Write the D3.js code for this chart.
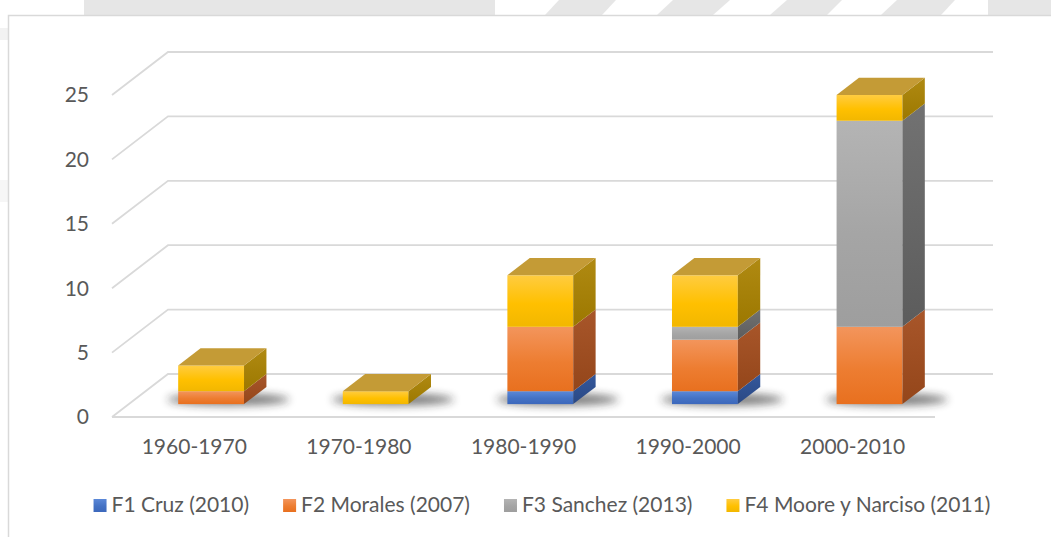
<!DOCTYPE html>
<html><head><meta charset="utf-8"/>
<title>Fuentes por década</title>
<script src="https://cdn.jsdelivr.net/npm/d3@7"></script>
<style>
  body { margin: 0; padding: 0; background: #fff; width: 1051px; height: 537px; overflow: hidden; }
  svg text { font-family: Lato, "Open Sans", sans-serif; fill: #595959; }
</style>
</head>
<body>
<div id="chart"></div>
<script>
// data
const categories = ["1960-1970", "1970-1980", "1980-1990", "1990-2000", "2000-2010"];
const seriesNames = ["F1 Cruz (2010)", "F2 Morales (2007)", "F3 Sanchez (2013)", "F4 Moore y Narciso (2011)"];
const f1Cruz = [0, 0, 1, 1, 0];
const f2Morales = [1, 0, 5, 4, 6];
const f3Sanchez = [0, 0, 0, 1, 16];
const f4Moore = [2, 1, 4, 4, 2];
const yTicks = [0, 5, 10, 15, 20, 25];

const W = 1051, H = 537;
const keys = ["f1", "f2", "f3", "f4"];
const rows = categories.map((c, i) => ({ cat: c, f1: f1Cruz[i], f2: f2Morales[i], f3: f3Sanchez[i], f4: f4Moore[i] }));

// colours: base, front gradient top/bottom, side top/bottom
const pal = {
  f1: { base: "#4472C4", ft: "#5B88D8", fb: "#3C68BC", st: "#34589C", sb: "#2A4884" },
  f2: { base: "#ED7D31", ft: "#F3955C", fb: "#E8701F", st: "#A8562A", sb: "#94461A" },
  f3: { base: "#A5A5A5", ft: "#B4B4B4", fb: "#9E9E9E", st: "#727272", sb: "#5C5C5C" },
  f4: { base: "#FFC000", ft: "#FFCC40", fb: "#F2B700", st: "#B08A12", sb: "#9C7800" }
};
const topColor = { f1: "#3A5FA0", f2: "#C0692C", f3: "#8A8A8A", f4: "#C49B36" };

const svg = d3.select("#chart").append("svg").attr("width", W).attr("height", H);
const defs = svg.append("defs");

keys.forEach(k => {
  const g1 = defs.append("linearGradient").attr("id", "front-" + k).attr("x1", 0).attr("y1", 0).attr("x2", 0).attr("y2", 1);
  g1.append("stop").attr("offset", "0%").attr("stop-color", pal[k].ft);
  g1.append("stop").attr("offset", "55%").attr("stop-color", pal[k].base);
  g1.append("stop").attr("offset", "100%").attr("stop-color", pal[k].fb);
  const g2 = defs.append("linearGradient").attr("id", "side-" + k).attr("x1", 0).attr("y1", 0).attr("x2", 0).attr("y2", 1);
  g2.append("stop").attr("offset", "0%").attr("stop-color", pal[k].st);
  g2.append("stop").attr("offset", "100%").attr("stop-color", pal[k].sb);
});
defs.append("filter").attr("id", "blur").attr("x", "-50%").attr("y", "-200%").attr("width", "200%").attr("height", "500%")
  .append("feGaussianBlur").attr("stdDeviation", 4);

// faint watermark behind the chart box
const wm = svg.append("g").attr("fill", "#e6e6e6");
wm.append("rect").attr("x", 84).attr("y", 0).attr("width", 411).attr("height", 15);
[[559, 616, 545, 602], [673, 730, 657, 713], [787, 842, 770, 827], [897, 955, 881, 941]].forEach(s => {
  wm.append("polygon").attr("points", `${s[0]},0 ${s[1]},0 ${s[3]},15 ${s[2]},15`);
});
wm.append("rect").attr("x", 988).attr("y", 0).attr("width", 63).attr("height", 15);
wm.append("rect").attr("x", 0).attr("y", 28).attr("width", 8).attr("height", 12).attr("opacity", 0.5);
wm.append("rect").attr("x", 0).attr("y", 180).attr("width", 8).attr("height", 22).attr("opacity", 0.35);

// chart box
svg.append("rect").attr("x", 8.5).attr("y", 15.5).attr("width", 1100).attr("height", 600)
  .attr("fill", "#fff").attr("stroke", "#d9d9d9").attr("stroke-width", 1.5);

// oblique 3D projection
const x = d3.scaleBand().domain(categories).range([112, 935]).paddingInner(0.6).paddingOuter(0.3);
const xc = d3.scaleBand().domain(categories).range([112, 935]);
const y = d3.scaleLinear().domain([0, 25]).range([417, 95]);
const DX = 56, DY = 43, backRight = 993;
const d0 = 0.3, d1 = 0.7;
const P = (px, v, d) => [px + d * DX, y(v) - d * DY];

// walls / gridlines
const grid = svg.append("g").attr("fill", "none").attr("stroke", "#d9d9d9").attr("stroke-width", 1.8);
yTicks.forEach(t => {
  const a = P(112, t, 0), b = P(112, t, 1);
  grid.append("polyline").attr("points", `${a} ${b} ${backRight},${b[1]}`);
});
grid.append("line").attr("x1", 112).attr("x2", 935).attr("y1", y(0)).attr("y2", y(0));

// y tick labels
svg.append("g").selectAll("text").data(yTicks).join("text")
  .attr("x", 89).attr("y", d => y(d) + 2)
  .attr("text-anchor", "end").attr("dominant-baseline", "middle")
  .attr("font-size", 21).text(d => d);

// category labels
svg.append("g").selectAll("text").data(categories).join("text")
  .attr("x", d => xc(d) + xc.bandwidth() / 2).attr("y", 449)
  .attr("text-anchor", "middle").attr("dominant-baseline", "middle")
  .attr("font-size", 21).text(d => d);

// shadows under bars
const bw = x.bandwidth();
svg.append("g").selectAll("ellipse").data(categories).join("ellipse")
  .attr("cx", d => x(d) + bw / 2 + 0.5 * DX + 6)
  .attr("cy", y(0) - 0.5 * DY + 4)
  .attr("rx", bw / 2 + 28).attr("ry", 6)
  .attr("fill", "#222").attr("opacity", 0.6)
  .attr("filter", "url(#blur)");

// stacked cuboids
const stacked = d3.stack().keys(keys)(rows);
const bars = svg.append("g");
categories.forEach((c, i) => {
  const xl = x(c), xr = x(c) + bw;
  const segs = stacked.map(s => ({ key: s.key, v0: s[i][0], v1: s[i][1] })).filter(s => s.v1 > s.v0);
  segs.forEach((s, j) => {
    const g = bars.append("g");
    const fl = P(xl, s.v1, d0);
    g.append("rect").attr("x", fl[0]).attr("y", fl[1])
      .attr("width", bw).attr("height", y(s.v0) - y(s.v1))
      .attr("fill", `url(#front-${s.key})`);
    const side = [P(xr, s.v0, d0), P(xr, s.v0, d1), P(xr, s.v1, d1), P(xr, s.v1, d0)];
    g.append("polygon").attr("points", side.join(" ")).attr("fill", `url(#side-${s.key})`);
    if (j === segs.length - 1) {
      const top = [P(xl, s.v1, d0), P(xr, s.v1, d0), P(xr, s.v1, d1), P(xl, s.v1, d1)];
      g.append("polygon").attr("points", top.join(" ")).attr("fill", topColor[s.key]);
    }
  });
});

// legend
const leg = svg.append("g");
const items = leg.selectAll("g").data(keys).join("g");
items.append("rect").attr("width", 13).attr("height", 13).attr("y", -7)
  .attr("fill", k => `url(#front-${k})`);
items.append("text").attr("x", 18).attr("y", 1).attr("dominant-baseline", "middle")
  .attr("font-size", 21).text((k, i) => seriesNames[i]);
const widths = [];
items.each(function () { widths.push(this.getBBox().width); });
const gap = 34;
const total = d3.sum(widths) + gap * (widths.length - 1);
let cx = 542 - total / 2;
items.each(function (d, i) {
  d3.select(this).attr("transform", `translate(${cx},506)`);
  cx += widths[i] + gap;
});
</script>
</body></html>
